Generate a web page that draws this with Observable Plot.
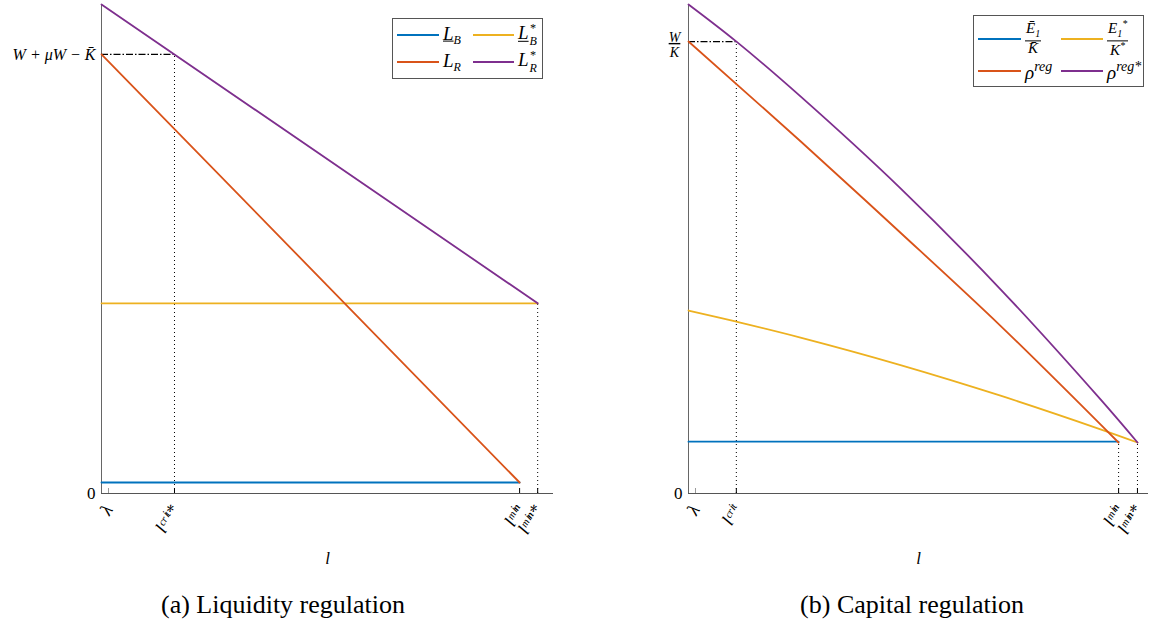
<!DOCTYPE html>
<html><head><meta charset="utf-8">
<script src="https://cdn.jsdelivr.net/npm/d3@7"></script>
<script src="https://cdn.jsdelivr.net/npm/@observablehq/plot@0.6"></script>
<style>
body{margin:0;background:#fff;}
#wrap{position:relative;width:1150px;height:627px;font-family:"Liberation Serif",serif;}
.panel{position:absolute;top:0;}
.panel svg text{font-family:"Liberation Serif",serif;}
.leg{position:absolute;border:1px solid #555;background:#fff;box-sizing:border-box;}
.ln{position:absolute;height:0;border-top:2px solid;}
.lb{position:absolute;font-style:italic;font-size:19px;line-height:1;transform:translateY(-50%);white-space:nowrap;}
.ss{display:inline-flex;flex-direction:column;vertical-align:middle;font-size:12px;line-height:1.1;margin-left:1px;}
.fr{display:inline-flex;flex-direction:column;align-items:center;vertical-align:middle;font-size:15px;line-height:1.05;}
.fr .n{border-bottom:1px solid #000;padding:0 1px;}
.cap{position:absolute;top:590px;font-size:26px;transform:translateX(-50%);white-space:nowrap;}
</style></head>
<body><div id="wrap"></div>
<script>
// ---------- Panel (a) Liquidity regulation ----------
const aTickVals = [1.55, 16.15, 92.5, 96.5];
const aTickLabels = ["λ", "lᶜʳⁱᵗ*", "lᵐⁱⁿ", "lᵐⁱⁿ*"];
const aYVals = [0, 89.8];
const aYLabels = ["0", "W + μW − K̄"];
const aX_LB = [0, 92.5], aY_LB = [2.25, 2.25];
const aX_LBs = [0, 96.5], aY_LBs = [38.9, 38.9];
const aX_LR = [0, 92.5], aY_LR = [89.8, 2.25];
const aX_LRs = [0, 96.5], aY_LRs = [100, 38.9];

// ---------- Panel (b) Capital regulation ----------
const bTickVals = [1.52, 10.4, 93.5, 97.6];
const bTickLabels = ["λ", "lᶜʳⁱᵗ", "lᵐⁱⁿ", "lᵐⁱⁿ*"];
const bYVals = [0, 92.4];
const bYLabels = ["0", "W"];
const bX_E = [0, 93.5], bY_E = [10.6, 10.6];
const bX_Es = [0, 10.43, 24.35, 46.09, 67.83, 89.57, 97.61];
const bY_Es = [37.42, 35.13, 31.88, 26.26, 20.0, 13.13, 10.43];
const bX_R = [0, 24.35, 46.09, 67.83, 93.48];
const bY_R = [92.43, 72.03, 53.33, 34.29, 10.43];
const bX_Rs = [0, 10.43, 24.35, 46.09, 67.83, 89.57, 97.61];
const bY_Rs = [100, 92.4, 81.2, 62.4, 41.76, 19.24, 10.43];

const C = {blue:"#0072BD", orange:"#D95319", yellow:"#EDB120", purple:"#7E2F8E"};
const FF = "Liberation Serif, serif";
const pts = (xs, ys) => xs.map((x, i) => ({x, y: ys[i]}));

function panel(o) {
  const marks = [
    Plot.ruleX([0], {stroke: "#666"}),
    Plot.ruleY([0], {stroke: "#555"}),
    ...o.extra,
    ...o.lines.map(([xs, ys, c]) => Plot.line(pts(xs, ys), {x: "x", y: "y", stroke: c, strokeWidth: 1.8, curve: xs.length > 2 ? "catmull-rom" : "linear"})),
    Plot.axisX([o.ticks[0]], {text: null, label: null, tickSize: 5, dy: -5, stroke: "#999"}),
    Plot.axisX(o.ticks.slice(1), {text: null, label: null, tickSize: 5, dy: -5, stroke: "#000"}),
    Plot.axisX(o.ticks, {label: null, tickSize: 0, tickPadding: 13, tickRotate: -60, tickFormat: (d, i) => o.xlab[i], fontSize: 18, fontStyle: "italic", fontFamily: FF, fill: "#000"}),
    Plot.axisX({ticks: [], label: "l", labelAnchor: "center", labelArrow: "none", labelOffset: 70, fontSize: 17, fontStyle: "italic", fontFamily: FF}),
    Plot.axisY([o.yvals[0]], {label: null, tickSize: 0, tickPadding: 6, tickFormat: () => o.ylab[0], fontSize: 17, fontFamily: FF, fill: "#000"}),
    Plot.axisY([o.yvals[1]], {label: null, tickSize: 0, tickPadding: 6, tickFormat: () => o.ylab[1], fontSize: 16, fontStyle: "italic", fontFamily: FF, fill: "#000"}),
  ];
  return Plot.plot({
    width: 575, height: 560,
    marginLeft: o.ml, marginRight: o.mr, marginTop: 4, marginBottom: 67,
    x: {domain: [0, 100], axis: null},
    y: {domain: [0, 100], axis: null},
    style: {fontFamily: FF, overflow: "visible", background: "transparent"},
    marks
  });
}

const wrap = document.getElementById("wrap");
const dot = {stroke: "#000", strokeDasharray: "1,3", strokeWidth: 1};
const dd = {stroke: "#000", strokeDasharray: "7,2,1.5,2", strokeWidth: 1.1};

const svgA = panel({
  ml: 101, mr: 22, ticks: aTickVals, xlab: aTickLabels, yvals: aYVals, ylab: aYLabels,
  extra: [
    Plot.ruleX([aTickVals[1]], {y1: 0, y2: aYVals[1], ...dot}),
    Plot.ruleX([aTickVals[3]], {y1: 0, y2: aY_LBs[0], ...dot}),
    Plot.ruleY([aYVals[1]], {x1: 0, x2: aTickVals[1], ...dd}),
  ],
  lines: [[aX_LB, aY_LB, C.blue], [aX_LBs, aY_LBs, C.yellow], [aX_LR, aY_LR, C.orange], [aX_LRs, aY_LRs, C.purple]]
});
const svgB = panel({
  ml: 113, mr: 2, ticks: bTickVals, xlab: bTickLabels, yvals: bYVals, ylab: bYLabels,
  extra: [
    Plot.ruleX([bTickVals[1]], {y1: 0, y2: bYVals[1], ...dot}),
    Plot.ruleX([bTickVals[2]], {y1: 0, y2: bY_E[0], ...dot}),
    Plot.ruleX([bTickVals[3]], {y1: 0, y2: bY_Es[bY_Es.length - 1], ...dot}),
    Plot.ruleY([bYVals[1]], {x1: 0, x2: bTickVals[1], ...dd}),
  ],
  lines: [[bX_E, bY_E, C.blue], [bX_Es, bY_Es, C.yellow], [bX_R, bY_R, C.orange], [bX_Rs, bY_Rs, C.purple]]
});

// stacked fraction W/K on panel (b)
const yt = svgB.querySelectorAll('g[aria-label="y-axis tick label"] text');
const ft = Array.from(yt).find(t => t.textContent === "W");
if (ft) {
  ft.textContent = "";
  ft.setAttribute("font-size", "14");
  ft.setAttribute("text-anchor", "middle");
  const tx = ft.getAttribute("transform");
  ft.setAttribute("transform", (tx || "") + " translate(-8,0)");
  const a = document.createElementNS("http://www.w3.org/2000/svg", "tspan");
  a.setAttribute("x", "0"); a.setAttribute("dy", "-0.3em"); a.textContent = "W";
  a.setAttribute("text-decoration", "underline");
  const b = document.createElementNS("http://www.w3.org/2000/svg", "tspan");
  b.setAttribute("x", "0"); b.setAttribute("dy", "1.05em"); b.textContent = "K";
  ft.appendChild(a); ft.appendChild(b);
}

const dA = document.createElement("div"); dA.className = "panel"; dA.style.left = "0px"; dA.appendChild(svgA);
const dB = document.createElement("div"); dB.className = "panel"; dB.style.left = "575px"; dB.appendChild(svgB);
wrap.appendChild(dA); wrap.appendChild(dB);

// legends
function legend(box, items) {
  const L = document.createElement("div"); L.className = "leg";
  Object.assign(L.style, {left: box[0] + "px", top: box[1] + "px", width: box[2] + "px", height: box[3] + "px"});
  items.forEach(it => {
    const ln = document.createElement("div"); ln.className = "ln";
    Object.assign(ln.style, {left: it.x + "px", top: (it.y - 1) + "px", width: it.w + "px", borderColor: it.c});
    const lb = document.createElement("div"); lb.className = "lb";
    Object.assign(lb.style, {left: (it.x + it.w + 4) + "px", top: it.y + "px"});
    lb.innerHTML = it.html;
    L.appendChild(ln); L.appendChild(lb);
  });
  wrap.appendChild(L);
}
const stack = (sup, sub) => sup
  ? `<span class="ss"><span>${sup}</span><span>${sub}</span></span>`
  : `<sub style="font-size:12px">${sub}</sub>`;
legend([392, 18, 151, 61], [
  {x: 4, y: 16, w: 42, c: C.blue, html: `<u>L</u>${stack("", "B")}`},
  {x: 80, y: 16, w: 41, c: C.yellow, html: `<u>L</u>${stack("*", "B")}`},
  {x: 4, y: 43, w: 42, c: C.orange, html: `L${stack("", "R")}`},
  {x: 80, y: 43, w: 41, c: C.purple, html: `L${stack("*", "R")}`},
]);
legend([973, 15, 171, 72], [
  {x: 4, y: 23, w: 43, c: C.blue, html: `<span class="fr"><span class="n">Ē<sub style="font-size:10px">1</sub></span><span>K̄</span></span>`},
  {x: 87, y: 23, w: 42, c: C.yellow, html: `<span class="fr"><span class="n">E<sub style="font-size:10px">1</sub><sup style="font-size:10px">*</sup></span><span>K<sup style="font-size:10px">*</sup></span></span>`},
  {x: 4, y: 55, w: 43, c: C.orange, html: `ρ<sup style="font-size:14px">reg</sup>`},
  {x: 87, y: 55, w: 42, c: C.purple, html: `ρ<sup style="font-size:14px">reg*</sup>`},
]);

// captions
[["(a) Liquidity regulation", 283], ["(b) Capital regulation", 912]].forEach(([t, x]) => {
  const c = document.createElement("div"); c.className = "cap"; c.textContent = t; c.style.left = x + "px";
  wrap.appendChild(c);
});
</script></body></html>
